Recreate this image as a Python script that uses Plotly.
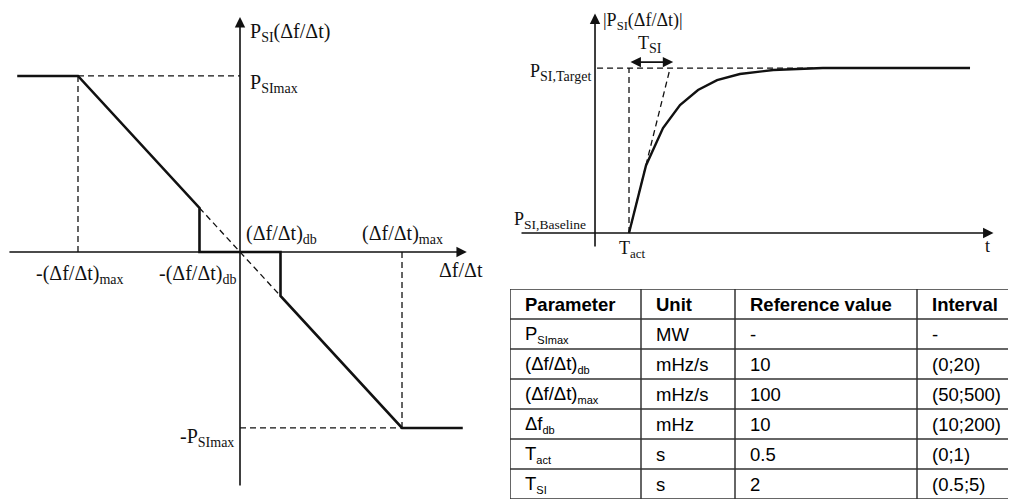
import plotly.graph_objects as go

# ---------------- data ----------------
# Left: droop characteristic P_SI(df/dt) (normalised units: db=1, max=4, Pmax=1)
dfdt_db = 1.0
dfdt_max = 4.0
p_max = 1.0
char_x = [-5.5, -4.0, -1.0, -1.0, 1.0, 1.0, 4.0, 5.5]
char_y = [1.0, 1.0, 0.25, 0.0, 0.0, -0.25, -1.0, -1.0]

# Right: step response |P_SI| vs t (normalised: T_act=1, target=1)
t_act = 1.0
t_si_end = 2.24
resp_t = [1.0, 1.5, 2.0, 2.5, 3.03, 3.59, 4.26, 5.24, 6.7, 11.03]
resp_p = [0.0, 0.41, 0.636, 0.776, 0.867, 0.927, 0.964, 0.988, 1.0, 1.0]

# Table
tbl_header = ["Parameter", "Unit", "Reference value", "Interval"]
tbl_param = ["P<sub>SImax</sub>", "(Δf/Δt)<sub>db</sub>", "(Δf/Δt)<sub>max</sub>",
             "Δf<sub>db</sub>", "T<sub>act</sub>", "T<sub>SI</sub>"]
tbl_unit = ["MW", "mHz/s", "mHz/s", "mHz", "s", "s"]
tbl_ref = ["-", "10", "100", "10", "0.5", "2"]
tbl_interval = ["-", "(0;20)", "(50;500)", "(10;200)", "(0;1)", "(0.5;5)"]

# ---------------- layout geometry ----------------
W, H = 1008, 493           # figure size (page body adds an 8px margin)
TBL_COL_EDGES = [0, 131, 225, 407, 512]
SERIF = "Liberation Serif"
SANS = "Liberation Sans"
INK = "#111111"
DASH = "6px,4px"

fig = go.Figure()


def seg(xs, ys, axis, dash=None, width=1.3):
    fig.add_trace(go.Scatter(
        x=xs, y=ys, mode="lines", xaxis="x" if axis == 1 else "x2",
        yaxis="y" if axis == 1 else "y2",
        line=dict(color=INK, width=width, dash=dash), hoverinfo="skip",
        showlegend=False))


# left dashed guides
seg([-dfdt_max, 0], [p_max, p_max], 1, DASH)
seg([-dfdt_max, -dfdt_max], [p_max, 0], 1, DASH)
seg([dfdt_max, dfdt_max], [0, -p_max], 1, DASH)
seg([0, dfdt_max], [-p_max, -p_max], 1, DASH)
seg([-dfdt_db, dfdt_db], [char_y[2], char_y[5]], 1, DASH)
# characteristic
seg(char_x, char_y, 1, None, 2.6)

# right dashed guides
seg([t_act, t_act], [0, 1], 2, DASH)
seg([0.06, 11.03], [1, 1], 2, DASH)
seg([t_act, t_si_end - 0.03], [0, 1], 2, DASH)
# response
seg(resp_t, resp_p, 2, None, 2.4)

# invisible anchor trace for the table subplot
fig.add_trace(go.Scatter(x=[0], y=[0], xaxis="x3", yaxis="y3", mode="markers",
                         marker=dict(opacity=0), hoverinfo="skip", showlegend=False))

ann = []
shapes = []


def arrow(x0, y0, x1, y1, axis, both=False):
    xr = "x" if axis == 1 else "x2"
    yr = "y" if axis == 1 else "y2"
    ann.append(dict(x=x1, y=y1, ax=x0, ay=y0, xref=xr, yref=yr, axref=xr, ayref=yr,
                    text="", showarrow=True, arrowhead=2, arrowsize=1.3,
                    arrowwidth=1.6, arrowcolor=INK, standoff=0, startstandoff=0,
                    arrowside="end+start" if both else "end", startarrowhead=2,
                    startarrowsize=1.3))


def label(x, y, text, axis, xa="left", ya="middle", size=20):
    xr = "x" if axis == 1 else "x2"
    yr = "y" if axis == 1 else "y2"
    ann.append(dict(x=x, y=y, xref=xr, yref=yr, text=text, showarrow=False,
                    xanchor=xa, yanchor=ya,
                    font=dict(family=SERIF, size=size, color=INK)))


def sub(main, s, px):
    return '%s<sub><span style="font-size:%spx">%s</span></sub>' % (main, px, s)


# left axes
arrow(-5.73, 0, 5.6, 0, 1)
arrow(0, -1.335, 0, 1.335, 1)
# right axes
arrow(-2.206, 0, 11.72, 0, 2)
arrow(0, -0.091, 0, 1.33, 2)
# T_SI double arrow
arrow(t_act, 1.036, t_si_end + 0.06, 1.036, 2, both=True)

# left labels
label(0.2, 1.245, "P<sub>SI</sub>(Δf/Δt)", 1)
label(0.2, 0.955, "P<sub>SImax</sub>", 1)
label(0.1, 0.10, "(Δf/Δt)<sub>db</sub>", 1)
label(2.97, 0.10, "(Δf/Δt)<sub>max</sub>", 1)
label(-5.08, -0.13, "-(Δf/Δt)<sub>max</sub>", 1)
label(-0.05, -0.13, "-(Δf/Δt)<sub>db</sub>", 1, xa="right")
label(4.86, -0.10, "Δf/Δt", 1)
label(-0.1, -1.055, "-P<sub>SImax</sub>", 1, xa="right")

# right labels
label(0.17, 1.285, "|P<sub>SI</sub>(Δf/Δt)|", 2, size=18)
label(1.62, 1.14, sub("T", "SI", 14), 2, xa="center", size=18)
label(-0.06, 0.975, sub("P", "SI,Target", 14), 2, xa="right", size=18)
label(-0.2, 0.075, sub("P", "SI,Baseline", 13.5), 2, xa="right", size=18)
label(0.65, -0.10, sub("T", "act", 13), 2, size=18)
label(11.4, -0.08, "t", 2, size=18)

# table grid
n_rows = len(tbl_param) + 1
for r in range(n_rows + 1):
    shapes.append(dict(type="line", xref="x3", yref="y3", x0=TBL_COL_EDGES[0],
                       x1=TBL_COL_EDGES[-1], y0=r, y1=r,
                       line=dict(color="#333333", width=1.5)))
for cx in TBL_COL_EDGES:
    shapes.append(dict(type="line", xref="x3", yref="y3", x0=cx, x1=cx,
                       y0=0, y1=n_rows, line=dict(color="#333333", width=1.5)))

TPAD = 13
for c, h in enumerate(tbl_header):
    ann.append(dict(x=TBL_COL_EDGES[c] + TPAD, y=0.5, xref="x3", yref="y3",
                    text="<b>%s</b>" % h, showarrow=False, xanchor="left",
                    yanchor="middle", font=dict(family=SANS, size=18.5, color="black")))
for c, col in enumerate([tbl_param, tbl_unit, tbl_ref, tbl_interval]):
    for r, v in enumerate(col):
        txt = v.replace("<sub>", '<sub><span style="font-size:11px">').replace(
            "</sub>", "</span></sub>")
        ann.append(dict(x=TBL_COL_EDGES[c] + TPAD, y=r + 1.5, xref="x3", yref="y3",
                        text=txt, showarrow=False, xanchor="left", yanchor="middle",
                        font=dict(family=SANS, size=18.5, color="black")))

fig.update_layout(
    width=W, height=H, autosize=False,
    margin=dict(l=0, r=0, t=0, b=0),
    paper_bgcolor="white", plot_bgcolor="rgba(0,0,0,0)",
    showlegend=False,
    annotations=ann,
    shapes=shapes,
    xaxis=dict(domain=[0, 500 / W], range=[-5.728, 6.617], visible=False, fixedrange=True),
    yaxis=dict(domain=[0, 1], range=[-1.415, 1.386], visible=False, fixedrange=True),
    xaxis2=dict(domain=[500 / W, 1], range=[-2.559, 12.382], visible=False,
                fixedrange=True, anchor="y2"),
    yaxis2=dict(domain=[1 - 280 / H, 1], range=[-0.333, 1.364], visible=False,
                fixedrange=True, anchor="x2"),
    xaxis3=dict(domain=[502 / W, 1], range=[0, 506], visible=False,
                fixedrange=True, anchor="y3"),
    yaxis3=dict(domain=[1 - 491 / H, 1 - 281 / H], range=[7, 0], visible=False,
                fixedrange=True, anchor="x3"),
)

fig.write_html("out.html")
